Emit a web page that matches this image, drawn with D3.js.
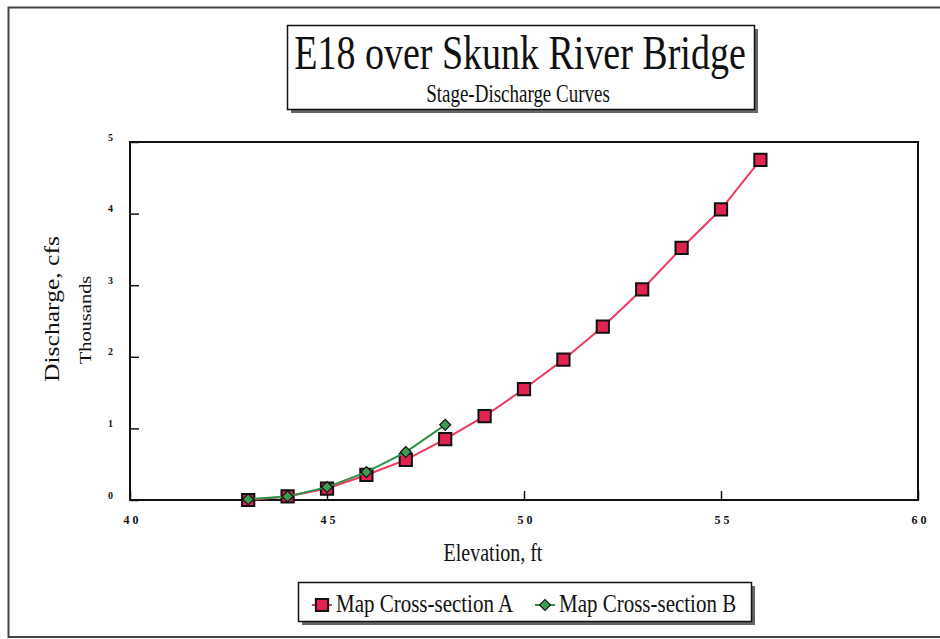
<!DOCTYPE html>
<html lang="en">
<head>
  <meta charset="utf-8">
  <script src="https://d3js.org/d3.v7.min.js"></script>
  <title>E18 over Skunk River Bridge</title>
  <style>
    body { margin: 0; background: #fff; }
    .axis text { font-family: "Liberation Serif", serif; font-weight: bold; fill: #111; }
    .axis line { stroke: #111; stroke-width: 1.5px; }
    .axis path { display: none; }
    .lbl { font-family: "Liberation Serif", "Times New Roman", serif; fill: #111; }
  </style>
</head>
<body>
<svg width="940" height="639" id="chart"></svg>
<script>

// elevation (ft) and discharge (thousand cfs)
var elevA = [43, 44, 45, 46, 47, 48, 49, 50, 51, 52, 53, 54, 55, 56];
var flowA = [0.0, 0.05, 0.16, 0.35, 0.56, 0.85, 1.17, 1.55, 1.96, 2.42, 2.94, 3.52, 4.06, 4.75];
var elevB = [43, 44, 45, 46, 47, 48];
var flowB = [0.01, 0.05, 0.18, 0.39, 0.67, 1.05];
var xTicks = [40, 45, 50, 55, 60];
var yTicks = [0, 1, 2, 3, 4, 5];
var seriesNames = ["Map Cross-section A", "Map Cross-section B"];

var redLine = "#ef3a5e", redFill = "#e2224f";
var greenLine = "#2f9148", greenFill = "#3d9b52";
var stretch = 1.28; // the scanned original is taller than wide

var svg = d3.select("#chart");

// outer frame (runs off the right edge in the original)
svg.append("rect")
  .attr("x", 8.5).attr("y", 7.5).attr("width", 960).attr("height", 629.5)
  .attr("fill", "none").attr("stroke", "#444").attr("stroke-width", 2);

// title box with drop shadow
svg.append("rect").attr("x", 291).attr("y", 29).attr("width", 467).attr("height", 84).attr("fill", "#666");
svg.append("rect").attr("x", 287.5).attr("y", 25.5).attr("width", 467).attr("height", 84)
  .attr("fill", "#fff").attr("stroke", "#111").attr("stroke-width", 1.5);

svg.append("text").attr("class", "lbl")
  .attr("transform", "translate(520,69) scale(1," + stretch + ")")
  .attr("text-anchor", "middle").style("font-size", "38px")
  .text("E18 over Skunk River Bridge");

svg.append("text").attr("class", "lbl")
  .attr("transform", "translate(518,102) scale(1," + stretch + ")")
  .attr("text-anchor", "middle").style("font-size", "19px")
  .text("Stage-Discharge Curves");

// plot area
var plotL = 130, plotR = 918, plotT = 142, plotB = 500;

var x = d3.scaleLinear().domain([40, 60]).range([plotL, plotR]);
var y = d3.scaleLinear().domain([0, 5]).range([plotB, plotT]);

svg.append("g")
  .attr("class", "axis")
  .attr("transform", "translate(0," + plotB + ")")
  .call(d3.axisBottom(x).tickValues(xTicks).tickSize(-9).tickSizeOuter(0).tickPadding(15))
  .selectAll("text")
  .style("font-size", "12px")
  .style("letter-spacing", "3px")
  .attr("dx", "2px");

svg.append("g")
  .attr("class", "axis")
  .attr("transform", "translate(" + plotL + ",0)")
  .call(d3.axisLeft(y).tickValues(yTicks).tickFormat(d3.format("d")).tickSize(-9).tickSizeOuter(0).tickPadding(17))
  .selectAll("text")
  .style("font-size", "10px")
  .attr("dy", "-0.2em");

// plot frame
svg.append("rect")
  .attr("x", plotL).attr("y", plotT).attr("width", plotR - plotL).attr("height", plotB - plotT)
  .attr("fill", "none").attr("stroke", "#111").attr("stroke-width", 2);

// axis titles
svg.append("text").attr("class", "lbl")
  .attr("transform", "translate(59,309) scale(1," + stretch + ") rotate(-90)")
  .attr("text-anchor", "middle").style("font-size", "20px")
  .text("Discharge, cfs");

svg.append("text").attr("class", "lbl")
  .attr("transform", "translate(91,320) scale(1," + stretch + ") rotate(-90)")
  .attr("text-anchor", "middle").style("font-size", "16px")
  .text("Thousands");

svg.append("text").attr("class", "lbl")
  .attr("transform", "translate(493,561) scale(1," + stretch + ")")
  .attr("text-anchor", "middle").style("font-size", "20px")
  .text("Elevation, ft");

// series
var line = d3.line().x(function(d) { return x(d[0]); }).y(function(d) { return y(d[1]); });
var dataA = d3.zip(elevA, flowA);
var dataB = d3.zip(elevB, flowB);

var sq = d3.symbol().type(d3.symbolSquare).size(150);
var dia = d3.symbol().type(d3.symbolSquare).size(60); // rotated 45deg below

svg.append("path").datum(dataA)
  .attr("d", line).attr("fill", "none").attr("stroke", redLine).attr("stroke-width", 2);
svg.selectAll(".ptA").data(dataA).enter().append("path")
  .attr("class", "ptA")
  .attr("d", sq)
  .attr("transform", function(d) { return "translate(" + x(d[0]) + "," + y(d[1]) + ")"; })
  .attr("fill", redFill).attr("stroke", "#111").attr("stroke-width", 2);

svg.append("path").datum(dataB)
  .attr("d", line).attr("fill", "none").attr("stroke", greenLine).attr("stroke-width", 2);
svg.selectAll(".ptB").data(dataB).enter().append("path")
  .attr("class", "ptB")
  .attr("d", dia)
  .attr("transform", function(d) { return "translate(" + x(d[0]) + "," + y(d[1]) + ") rotate(45)"; })
  .attr("fill", greenFill).attr("stroke", "#111").attr("stroke-width", 1.2);

// legend box with shadow
svg.append("rect").attr("x", 302).attr("y", 586).attr("width", 453).attr("height", 39).attr("fill", "#666");
svg.append("rect").attr("x", 298.5).attr("y", 582.5).attr("width", 453).attr("height", 39)
  .attr("fill", "#fff").attr("stroke", "#111").attr("stroke-width", 1.5);

var legend = [
  { name: seriesNames[0], x: 322, line: redLine, sym: sq, rot: 0, fill: redFill, sw: 2 },
  { name: seriesNames[1], x: 545, line: greenLine, sym: dia, rot: 45, fill: greenFill, sw: 1.2 }
];
var lg = svg.selectAll(".leg").data(legend).enter().append("g")
  .attr("class", "leg")
  .attr("transform", function(d) { return "translate(" + d.x + ",605)"; });
lg.append("line").attr("x1", -10).attr("x2", 10)
  .attr("stroke", function(d) { return d.line; }).attr("stroke-width", 2);
lg.append("path").attr("d", function(d) { return d.sym(); })
  .attr("transform", function(d) { return "rotate(" + d.rot + ")"; })
  .attr("fill", function(d) { return d.fill; })
  .attr("stroke", "#111").attr("stroke-width", function(d) { return d.sw; });
lg.append("text").attr("class", "lbl")
  .attr("transform", "translate(14,7) scale(1,1.15)")
  .style("font-size", "21px")
  .text(function(d) { return d.name; });

</script>
</body>
</html>
